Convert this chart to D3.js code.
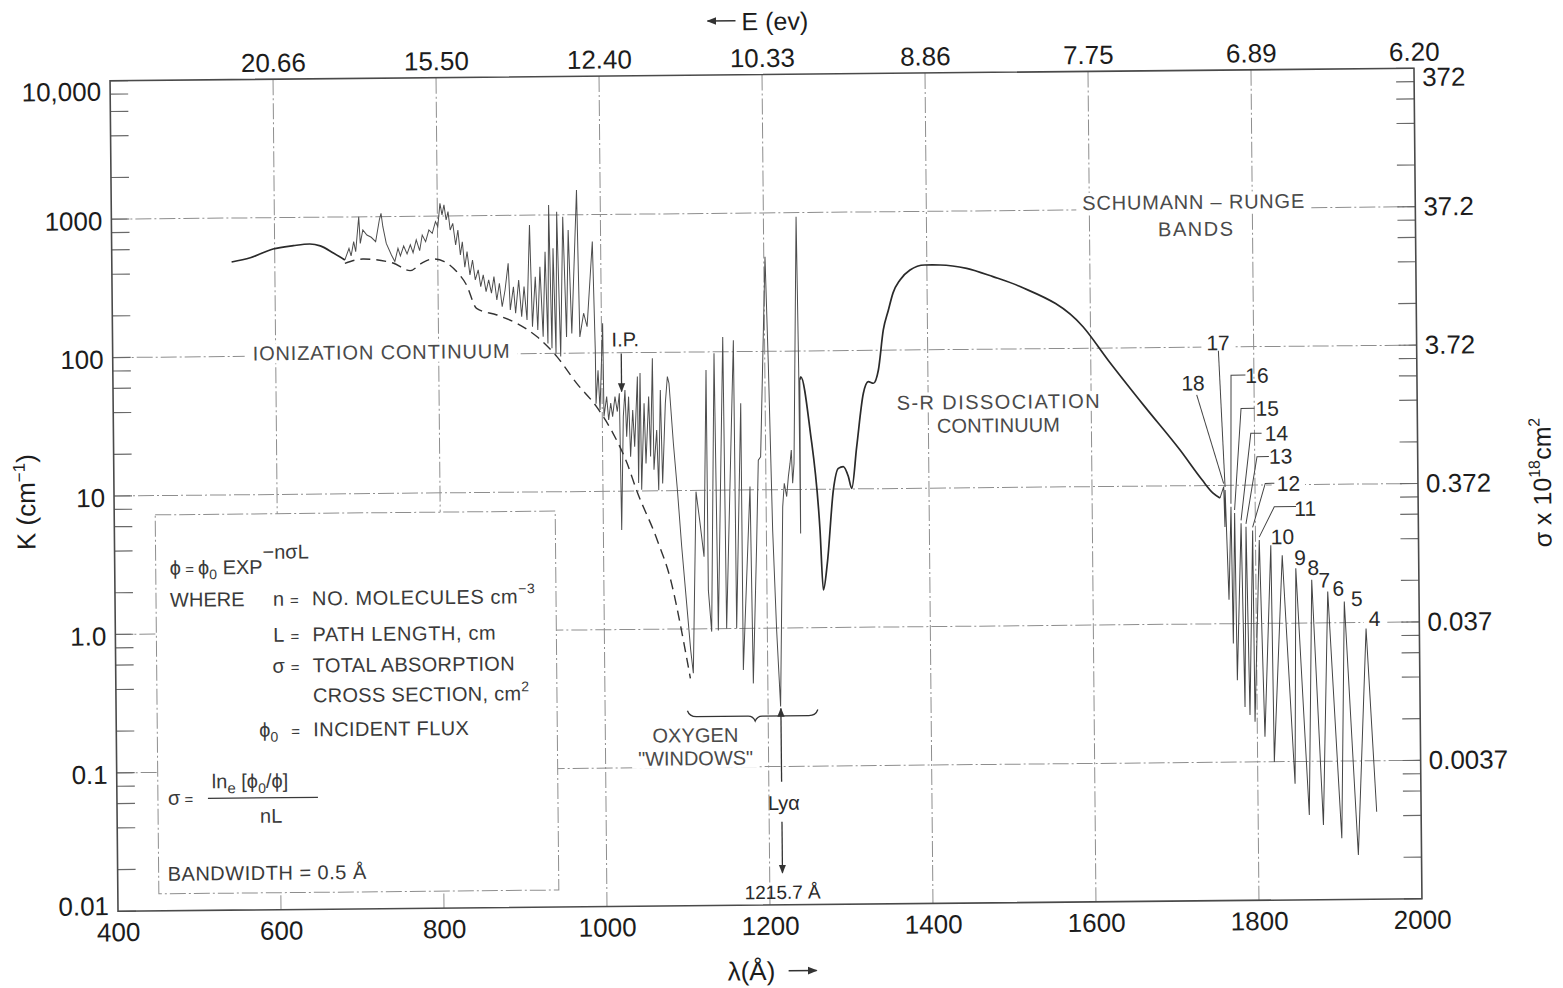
<!DOCTYPE html>
<html>
<head>
<meta charset="utf-8">
<script src="https://cdn.jsdelivr.net/npm/d3@7"></script>
<style>
body { margin: 0; background: #fff; }
text { font-family: "Liberation Sans", Arial, sans-serif; }
</style>
</head>
<body>
<script>
var width = 1563, height = 988;

// axis ticks
var lambdaTicks = [400, 600, 800, 1000, 1200, 1400, 1600, 1800, 2000];
var energyLabels = ["", "20.66", "15.50", "12.40", "10.33", "8.86", "7.75", "6.89", "6.20"];
var kTicks = [0.01, 0.1, 1, 10, 100, 1000, 10000];
var kLabels = ["0.01", "0.1", "1.0", "10", "100", "1000", "10,000"];
var sigmaTicks = [10000, 1000, 100, 10, 1, 0.1];
var sigmaLabels = ["372", "37.2", "3.72", "0.372", "0.037", "0.0037"];

// spectrum, [wavelength in A, K in cm-1]
var ionContinuum = [[547,481],[570,515],[598,593],[623,625],[643,641],[656,620],[672,550],[686,489]];

var ionLimit = [[686,462],[708,495],[745,461],[766,405],[780,457],[794,490],[808,468],[823,396],
  [835,316],[847,214],[872,191],[896,166],[921,132],[945,94.7],[969,60.5],[993,40.9],[1013,26.2],
  [1030,15.8],[1041,10.2],[1066,4.40],[1083,2.14],[1093,1.10],[1105,0.44]];

var ionBands = [[686,489],[691.2,593],[693.7,522],[697,662],[699.4,560],[703.5,1002],[705.1,643],
  [708.4,803],[713.3,738],[718.6,710],[724,660],[728.9,957],[730.9,1055],[733,845],[737,640],
  [743.2,527],[747.3,472],[751.3,589],[754.2,519],[758.3,611],[762.4,535],[766.5,622],[769.8,546],
  [773.8,675],[777.9,564],[781.2,731],[785.3,655],[789.4,794],[793.5,751],[797.6,912],[800.4,838],
  [803.3,1236],[805.7,1018],[808.2,1203],[810.7,935],[813.1,1075],[815.6,791],[818.8,884],[822.1,616],
  [825,790],[827.8,521],[830.3,650],[833.1,425],[836,551],[839.3,373],[842.6,479],[845.8,344],
  [849.5,406],[852.4,307],[855.6,373],[858.9,282],[862.2,343],[865.5,275],[868.7,362],[872,245],
  [875.3,324],[878.5,219],[882.2,289],[886.3,450],[888.4,207],[892.5,305],[894.9,196],[899,341],
  [902.3,185],[905.5,305],[908.8,175],[912.9,849],[915.4,156],[919.4,359],[921.9,148],[925.2,424],
  [928.4,132],[931.7,543],[934.2,118],[936.6,1180],[939.1,109],[941.5,574],[944,100],[946.4,1055],
  [949.7,94.7],[953.8,970],[957.1,131],[960.3,778],[963.6,139],[971,1510],[973.4,131],[978.3,194],
  [982.4,155],[989.8,638],[992.2,105],[992.5,43],[995.3,75],[997.3,38.7],[1001.5,164],[1002.1,34.7],
  [1005.6,48.3],[1007.8,32.7],[1010.5,43.3],[1012.7,34.6],[1015.8,48.2],[1018.5,37.6],[1021.2,50.9],
  [1022.5,5.25],[1025.8,34.6],[1028.1,53.8],[1029.7,24.7],[1032.5,48.1],[1034.3,17.7],[1037.4,38.5],
  [1039.4,20.9],[1043.5,67.1],[1043.8,11.4],[1046.8,71],[1047.5,10.2],[1051.4,43],[1053.1,15.8],
  [1057.1,48],[1058.8,17.7],[1062.1,90.8],[1062.8,14.2],[1066.6,27.5],[1068.4,10.1],[1071.5,53.5],
  [1073.3,11.3],[1077.5,42.9],[1080.3,66.8],[1082.2,59.7],[1086.9,22],[1091.3,10.1],[1095.9,3.94],
  [1101.3,1.53],[1105.7,0.705],[1108.7,0.478],[1114.1,9.8],[1118.7,5.78],[1123.2,3.32],[1127.8,74],
  [1128.1,1.9],[1131.7,0.953],[1137.8,97.5],[1139.9,0.97],[1148.7,128],[1150.1,1.0],[1161.7,121],
  [1162.4,1.0],[1170,42.4],[1170.1,0.5],[1180.4,10.6],[1182.2,0.4],[1187.9,4.1],[1190.9,16.4],
  [1193.8,17.3],[1201.5,483],[1204.3,82],[1207.7,5.1],[1211.4,0.97],[1215.4,0.271],[1220.3,7.5],
  [1222.5,11.1],[1225.3,8.9],[1227.6,12.4],[1229.8,15.5],[1231.5,19.3],[1232.8,11.1],[1234.7,15.4],
  [1240.1,935],[1241.5,75],[1242,4.8],[1242.8,62]];

var srContinuum = [[1242.8,62],[1244,65],[1254.7,26.9],[1265.8,5.08],[1269.2,1.87],[1274.4,2.92],
  [1282.7,9.9],[1289,14.1],[1295.1,14.5],[1301.2,12.3],[1305.2,10.1],[1311.8,20.2],[1320.6,49],
  [1326.8,59.4],[1333,57.8],[1339.3,72],[1345.8,140],[1352.3,195],[1358.2,259],[1366.9,321],
  [1379.3,378],[1397.3,410],[1416.2,409],[1448.8,385],[1481,334],[1514.1,282],[1590.9,143],
  [1621.1,82],[1665.7,37.5],[1708.5,18.1],[1735.1,11.0],[1748.5,8.8],[1756.9,8.1]];

// Schumann-Runge bands: head, then minimum, from v=18 down to v=4
var srBands = [[1756.9,8.1],[1761.6,9.8],[1762.7,5.0],[1763.3,9.25],[1766.8,1.49],[1770.3,7.0],
  [1771.6,0.72],[1774.7,6.3],[1776.1,0.39],[1782.5,5.3],[1785.2,0.25],[1788.5,5.0],[1791.2,0.218],
  [1796.6,4.7],[1797.3,0.195],[1804.6,4.0],[1809.3,0.152],[1818.7,3.67],[1820.5,0.0995],
  [1832.6,3.1],[1845.7,0.069],[1849.1,2.49],[1862.8,0.041],[1868.5,2.05],[1880.0,0.0347],
  [1888.0,1.68],[1902.4,0.0277],[1908.2,1.42],[1922.5,0.0209],[1934.6,0.905],[1945.5,0.0428]];
var bandNumbers = [18,17,16,15,14,13,12,11,10,9,8,7,6,5,4];

var x = d3.scaleLinear().domain([400, 2000]).range([114, 1418]);
var y = d3.scaleLog().domain([0.01, 10000]).range([905, 74.5]);

var svg = d3.select("body").append("svg")
  .attr("width", width)
  .attr("height", height);

var defs = svg.append("defs");
defs.append("marker").attr("id", "arrow")
  .attr("viewBox", "0 0 10 10").attr("refX", 9).attr("refY", 5)
  .attr("markerWidth", 7).attr("markerHeight", 7).attr("orient", "auto")
  .append("path").attr("d", "M0,1L10,5L0,9Z").attr("fill", "#333");

// the scanned sheet sits a little crooked
var g = svg.append("g").attr("transform", "rotate(-0.55,766,490)");

var dashDot = "16,3,2,3";

// grid
var grid = g.append("g").attr("stroke", "#8e8e8e").attr("stroke-width", 1)
  .attr("stroke-dasharray", dashDot);
grid.append("g").selectAll("line").data(lambdaTicks.slice(1, -1)).join("line")
  .attr("x1", function(d) { return x(d); }).attr("x2", function(d) { return x(d); })
  .attr("y1", y(10000)).attr("y2", y(0.01));
grid.append("g").selectAll("line").data(kTicks.slice(1, -1)).join("line")
  .attr("x1", x(400)).attr("x2", x(2000))
  .attr("y1", function(d) { return y(d); }).attr("y2", function(d) { return y(d); });

// minor ticks at 2,4,6,8 of each decade, both sides
var minor = [];
kTicks.slice(0, -1).forEach(function(d) {
  [1, 2, 4, 6, 8].forEach(function(m) { minor.push(d * m); });
});
minor.push(10000);
var ticks = g.append("g").attr("stroke", "#6a6a6a").attr("stroke-width", 1.2);
ticks.append("g").selectAll("line").data(minor).join("line")
  .attr("x1", x(400)).attr("x2", x(400) + 18)
  .attr("y1", function(d) { return y(d); }).attr("y2", function(d) { return y(d); });
ticks.append("g").selectAll("line").data(minor).join("line")
  .attr("x1", x(2000) - 18).attr("x2", x(2000))
  .attr("y1", function(d) { return y(d); }).attr("y2", function(d) { return y(d); });

// legend box (covers the grid)
var lg = g.append("g").attr("fill", "#3a3a3a").attr("font-size", 20);
lg.append("rect").attr("x", 155).attr("y", 509).attr("width", 400).attr("height", 379)
  .attr("fill", "#fff").attr("stroke", "#8e8e8e").attr("stroke-dasharray", dashDot);

function rich(sel, parts) {
  parts.forEach(function(p) {
    var t = sel.append("tspan").text(p[0]);
    if (p[1]) t.attr("dy", p[1]);
    if (p[2]) t.attr("font-size", p[2]);
  });
  return sel;
}
rich(lg.append("text").attr("x", 169).attr("y", 569),
  [["ϕ"], [" = ", 0, 15], ["ϕ"], ["0", 5, 14], [" EXP", -5], ["−nσL", -15]]);
lg.append("text").attr("x", 169).attr("y", 601).text("WHERE");
var symRows = [[601, "n"], [637, "L"], [668, "σ"], [732, "ϕ"]];
symRows.forEach(function(r) {
  var t = lg.append("text").attr("x", r[1] === "ϕ" ? 276 : 283).attr("y", r[0]).attr("text-anchor", "end").text(r[1]);
  if (r[1] === "ϕ") t.append("tspan").attr("dy", 5).attr("font-size", 14).text("0");
  lg.append("text").attr("x", 289).attr("y", r[0]).attr("font-size", 15).text("=");
});
rich(lg.append("text").attr("x", 311).attr("y", 601).attr("letter-spacing", 0.6),
  [["NO. MOLECULES cm"], ["−3", -10, 14]]);
lg.append("text").attr("x", 311).attr("y", 637).attr("letter-spacing", 0.6).text("PATH LENGTH, cm");
lg.append("text").attr("x", 311).attr("y", 668).attr("letter-spacing", 0.3).text("TOTAL ABSORPTION");
rich(lg.append("text").attr("x", 311).attr("y", 698).attr("letter-spacing", 0.3),
  [["CROSS SECTION, cm"], ["2", -9, 14]]);
lg.append("text").attr("x", 311).attr("y", 732).attr("letter-spacing", 0.4).text("INCIDENT FLUX");
rich(lg.append("text").attr("x", 165).attr("y", 799), [["σ"], [" =", 0, 15]]);
rich(lg.append("text").attr("x", 209).attr("y", 783),
  [["ln"], ["e", 5, 15], [" [ϕ", -5], ["0", 5, 14], ["/ϕ]", -5]]);
lg.append("line").attr("x1", 205).attr("x2", 315).attr("y1", 793).attr("y2", 793)
  .attr("stroke", "#3a3a3a").attr("stroke-width", 1.2);
lg.append("text").attr("x", 268).attr("y", 818).attr("text-anchor", "middle").text("nL");
lg.append("text").attr("x", 164).attr("y", 875).attr("letter-spacing", 0.5).text("BANDWIDTH = 0.5 Å");

// frame
g.append("rect").attr("x", x(400)).attr("y", y(10000))
  .attr("width", x(2000) - x(400)).attr("height", y(0.01) - y(10000))
  .attr("fill", "none").attr("stroke", "#4a4a4a").attr("stroke-width", 1.6);

// axes
function styleAxis(a) {
  a.select(".domain").remove();
  a.attr("font-size", 26).attr("font-family", null).style("color", "#1c1c1c");
}
g.append("g").attr("transform", "translate(0," + y(0.01) + ")")
  .call(d3.axisBottom(x).tickValues(lambdaTicks).tickFormat(d3.format("d")).tickSize(0).tickPadding(11.5))
  .call(styleAxis);
g.append("g").attr("transform", "translate(0," + y(10000) + ")")
  .call(d3.axisTop(x).tickValues(lambdaTicks.slice(1)).tickSize(0).tickPadding(7.5)
    .tickFormat(function(d) { return energyLabels[lambdaTicks.indexOf(d)]; }))
  .call(styleAxis);
var left = g.append("g").attr("transform", "translate(" + x(400) + ",0)")
  .call(d3.axisLeft(y).tickValues(kTicks).tickSize(0).tickPadding(9)
    .tickFormat(function(d) { return kLabels[kTicks.indexOf(d)]; }))
  .call(styleAxis);
left.selectAll(".tick text").attr("y", function(d) { return d === 10000 ? 11 : d === 0.01 ? -5 : 2; });
var right = g.append("g").attr("transform", "translate(" + x(2000) + ",0)")
  .call(d3.axisRight(y).tickValues(sigmaTicks).tickSize(0).tickPadding(8)
    .tickFormat(function(d) { return sigmaLabels[sigmaTicks.indexOf(d)]; }))
  .call(styleAxis);
right.selectAll(".tick text").attr("y", function(d) { return d === 10000 ? 9 : 0; });

// axis titles
g.append("text").attr("transform", "translate(35,495) rotate(-90)").attr("text-anchor", "middle")
  .attr("font-size", 26).attr("fill", "#1c1c1c")
  .call(rich, [["K (cm"], ["−1", -10, 17], [")", 10]]);
g.append("text").attr("transform", "translate(1551,490) rotate(-90)").attr("text-anchor", "middle")
  .attr("font-size", 25).attr("fill", "#1c1c1c")
  .call(rich, [["σ x 10"], ["18", -11, 16], ["cm", 11], ["2", -11, 16]]);
g.append("text").attr("x", 746).attr("y", 30).attr("font-size", 25).attr("fill", "#1c1c1c").text("E (ev)");
g.append("line").attr("x1", 740).attr("x2", 712).attr("y1", 20.5).attr("y2", 20.5)
  .attr("stroke", "#333").attr("stroke-width", 1.4).attr("marker-end", "url(#arrow)");
g.append("text").attr("x", 723).attr("y", 980).attr("font-size", 26).attr("fill", "#1c1c1c").text("λ(Å)");
g.append("line").attr("x1", 784).attr("x2", 812).attr("y1", 971).attr("y2", 971)
  .attr("stroke", "#333").attr("stroke-width", 1.4).attr("marker-end", "url(#arrow)");

// spectrum
var smooth = d3.line().x(function(d) { return x(d[0]); }).y(function(d) { return y(d[1]); }).curve(d3.curveMonotoneX);
var jagged = d3.line().x(function(d) { return x(d[0]); }).y(function(d) { return y(d[1]); });

var data = g.append("g").attr("fill", "none");
data.append("path").attr("d", jagged(ionBands)).attr("stroke", "#4d4d4d").attr("stroke-width", 1);
data.append("path").attr("d", smooth(ionLimit)).attr("stroke", "#333").attr("stroke-width", 1.4)
  .attr("stroke-dasharray", "10,6");
data.append("path").attr("d", smooth(ionContinuum)).attr("stroke", "#2a2a2a").attr("stroke-width", 1.7);
data.append("path").attr("d", smooth(srContinuum)).attr("stroke", "#2a2a2a").attr("stroke-width", 1.7);
data.append("path").attr("d", jagged(srBands)).attr("stroke", "#444").attr("stroke-width", 1);

// annotations
var ann = g.append("g").attr("fill", "#4a4a4a").attr("font-size", 20);

// white patch behind a label so the grid breaks around it
function clear(parent, t, px, py) {
  var b = t.node().getBBox();
  parent.insert("rect", function() { return t.node(); })
    .attr("x", b.x - px).attr("y", b.y + 2 - py)
    .attr("width", b.width + 2 * px).attr("height", b.height - 4 + 2 * py)
    .attr("fill", "#fff");
  return t;
}
clear(ann, ann.append("text").attr("x", 254).attr("y", 355.5).attr("textLength", 257).text("IONIZATION CONTINUUM"), 8, 1);
clear(ann, ann.append("text").attr("x", 999).attr("y", 411).attr("text-anchor", "middle").attr("textLength", 203).text("S-R DISSOCIATION"), 3, 1);
clear(ann, ann.append("text").attr("x", 999).attr("y", 434.5).attr("text-anchor", "middle").attr("textLength", 123).text("CONTINUUM"), 3, 1);
clear(ann, ann.append("text").attr("x", 1196).attr("y", 213).attr("text-anchor", "middle").attr("textLength", 222).text("SCHUMANN – RUNGE"), 6, 1);
clear(ann, ann.append("text").attr("x", 1198).attr("y", 240).attr("text-anchor", "middle").attr("textLength", 75).text("BANDS"), 3, 1);
ann.append("text").attr("x", 693).attr("y", 741.5).attr("text-anchor", "middle").attr("textLength", 86).text("OXYGEN");
clear(ann, ann.append("text").attr("x", 693).attr("y", 764.5).attr("text-anchor", "middle").attr("textLength", 115).text("\"WINDOWS\""), 6, 1);

// brace over the windows
var b0 = x(1101), b1 = x(1261), bc = x(1184);
ann.append("path").attr("fill", "none").attr("stroke", "#333").attr("stroke-width", 1.3)
  .attr("d", "M" + b0 + ",710 Q" + (b0 + 2) + ",716 " + (b0 + 9) + ",716 L" + (bc - 7) + ",716 Q" + (bc - 2) + ",716 " + bc + ",721 Q" + (bc + 2) + ",716 " + (bc + 7) + ",716 L" + (b1 - 9) + ",716 Q" + (b1 - 2) + ",716 " + b1 + ",710");

// ionization potential
ann.append("text").attr("x", 613).attr("y", 345).attr("fill", "#2a2a2a").text("I.P.");
ann.append("line").attr("x1", x(1024)).attr("x2", x(1024)).attr("y1", 352).attr("y2", 390)
  .attr("stroke", "#333").attr("stroke-width", 1.3).attr("marker-end", "url(#arrow)");

// Lyman alpha
var xl = x(1215.7);
ann.append("line").attr("x1", xl).attr("x2", xl).attr("y1", 782).attr("y2", y(0.271) + 2)
  .attr("stroke", "#333").attr("stroke-width", 1.3).attr("marker-end", "url(#arrow)");
ann.append("text").attr("x", xl + 2).attr("y", 810).attr("text-anchor", "middle").attr("fill", "#2a2a2a").text("Lyα");
ann.append("line").attr("x1", xl).attr("x2", xl).attr("y1", 822).attr("y2", 873)
  .attr("stroke", "#333").attr("stroke-width", 1.3).attr("marker-end", "url(#arrow)");
ann.append("text").attr("x", xl).attr("y", 899).attr("text-anchor", "middle").attr("font-size", 19)
  .attr("fill", "#2a2a2a").text("1215.7 Å");

// band numbers; the crowded ones get leader lines
var bandLabels = {
  18: [1194, 387], 17: [1219.4, 347], 16: [1258, 380], 15: [1268, 413], 14: [1277, 438],
  13: [1281, 461], 12: [1288.4, 488.3], 11: [1305, 513.5], 10: [1282, 541.5], 9: [1299.4, 562.6],
  8: [1312.6, 572.8], 7: [1323.4, 585.4], 6: [1337.4, 593.8], 5: [1355.7, 604], 4: [1373.3, 624.2]
};
var leaders = {
  18: [[1197.6, 399]], 17: [[1219.7, 355]],
  16: [[1246.5, 379.6], [1232.1, 379.6]], 15: [[1255.2, 413], [1241.8, 413]],
  14: [[1262.1, 438], [1251.3, 438]], 13: [[1269.2, 461.4], [1257.3, 461.4]],
  12: [[1274.4, 488.2], [1265.3, 488.2]], 11: [[1295.8, 511.7], [1274.1, 511.7]]
};
var bl = g.append("g").attr("fill", "#2a2a2a").attr("font-size", 21);
bandNumbers.forEach(function(v, i) {
  var head = srBands[1 + 2 * i];
  var p = bandLabels[v];
  var t = bl.append("text").attr("x", p[0]).attr("y", p[1] + 7.5).attr("text-anchor", "middle").text(v);
  if (v === 17 || v === 12 || v === 4) clear(bl, t, 5, 0);
  if (leaders[v]) {
    var pts = leaders[v].concat([[x(head[0]), y(head[1]) - 3]]);
    bl.append("path").attr("fill", "none").attr("stroke", "#444").attr("stroke-width", 1)
      .attr("d", d3.line()(pts));
  }
});
</script>
</body>
</html>
